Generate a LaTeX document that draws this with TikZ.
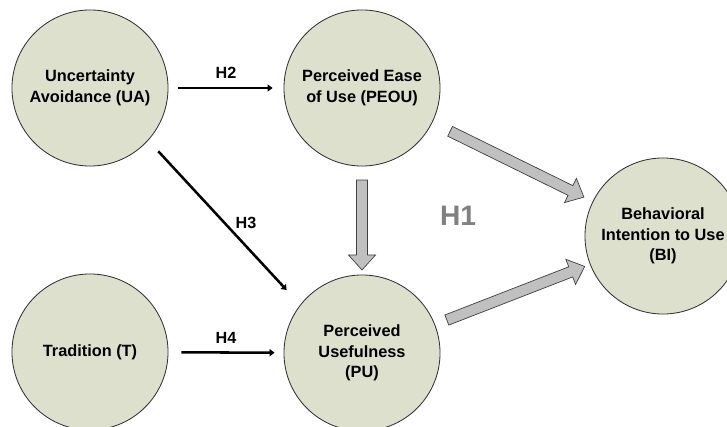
\documentclass[tikz,border=0pt]{standalone}
\usepackage{fontspec}
\setmainfont{Liberation Sans}
\usetikzlibrary{shapes.arrows,arrows.meta,calc}

\definecolor{constructfill}{RGB}{221,224,204}
\definecolor{fatgray}{RGB}{192,192,192}
\definecolor{hgray}{RGB}{128,128,128}

\tikzset{
  construct/.style={circle, draw=black!80, line width=.6pt, fill=constructfill,
    minimum size=3.9cm, inner sep=0pt, align=center,
    font=\fontsize{11.6}{14.7}\selectfont\bfseries},
  hyp/.style={line width=1.8pt, -{Triangle[length=3.5pt,width=5pt]}},
  hlabel/.style={font=\fontsize{11.5}{13}\selectfont\bfseries, inner sep=1pt},
  fat/.style={single arrow, draw=black!75, fill=fatgray, line width=.5pt,
    inner sep=0pt, inner ysep=.125cm, minimum width=.675cm,
    single arrow head extend=.2cm, single arrow tip angle=84}
}

% block arrow between two coordinates
\newcommand\fatarrow[2]{%
  \path let \p1=($(#2)-(#1)$), \n1={veclen(\x1,\y1)}, \n2={atan2(\y1,\x1)} in
    node[fat, minimum height=\n1, rotate=\n2] at ($(#1)!.5!(#2)$) {};}

\begin{document}
\begin{tikzpicture}[x=0.025cm, y=-0.025cm]
  \useasboundingbox (0,0) rectangle (727,426);
  \clip (0,0) rectangle (727,426);

  % constructs
  \node[construct] (UA)   at (90,88)   {Uncertainty\\Avoidance (UA)};
  \node[construct] (PEOU) at (362,88)  {Perceived Ease\\of Use (PEOU)};
  \node[construct] (T)    at (90,352)  {Tradition (T)};
  \node[construct] (PU)   at (362,353) {Perceived\\Usefulness\\(PU)};
  \node[construct] (BI)   at (663,236) {Behavioral\\Intention to Use\\(BI)};

  % hypotheses
  \draw[hyp, shorten <=.25cm, shorten >=.275cm] (UA) -- node[hlabel, above=.17cm] {H2} (PEOU);
  \draw[hyp, shorten <=.37cm, shorten >=.5cm] (UA.-42) -- node[hlabel, right=.22cm] {H3} (PU.142);
  \draw[hyp, shorten <=.325cm, shorten >=.225cm] (T) -- node[hlabel, above=.17cm] {H4} (PU);

  % TAM block arrows
  \coordinate (a1) at ($(PEOU)!2.375cm!(BI)$);
  \coordinate (a2) at ($(BI)!2.275cm!(PEOU)$);
  \coordinate (b1) at ($(PEOU)!2.225cm!(PU)$);
  \coordinate (b2) at ($(PU)!2.15cm!(PEOU)$);
  \coordinate (c1) at ($(PU)!2.2cm!(BI)$);
  \coordinate (c2) at ($(BI)!2.175cm!(PU)$);
  \fatarrow{a1}{a2}
  \fatarrow{b1}{b2}
  \fatarrow{c1}{c2}

  \node[font=\fontsize{20}{24}\selectfont\bfseries, text=hgray] (H1) at (458,216) {H1};
\end{tikzpicture}
\end{document}
